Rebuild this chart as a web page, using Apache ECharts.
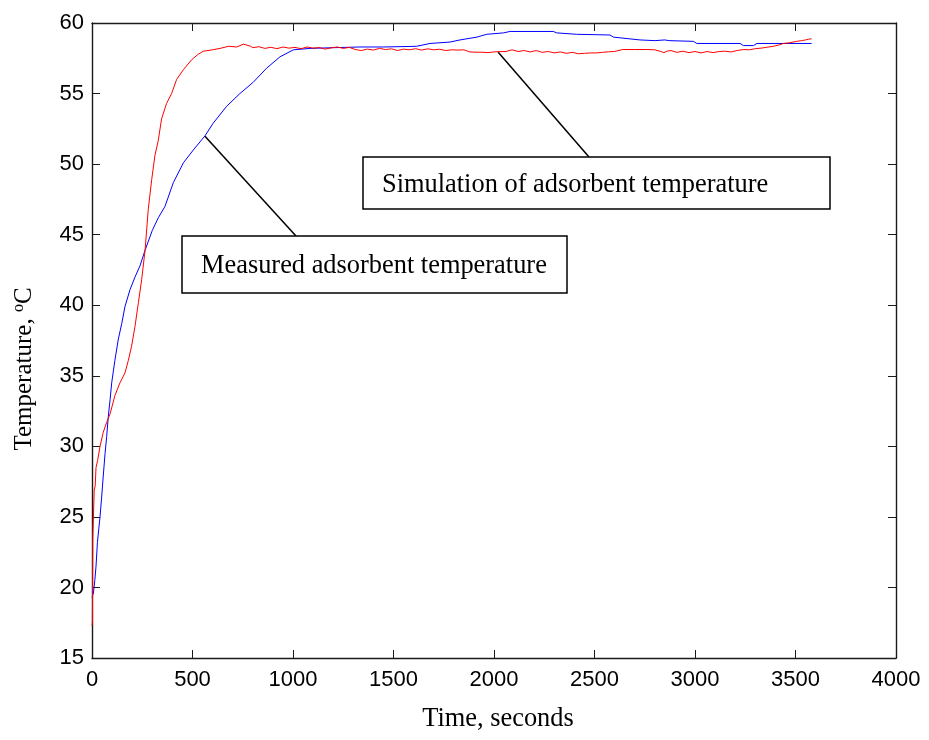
<!DOCTYPE html>
<html>
<head>
<meta charset="utf-8">
<script src="https://cdn.jsdelivr.net/npm/echarts@6/dist/echarts.min.js"></script>
<style>
html,body{margin:0;padding:0;background:#fff;}
#chart{width:929px;height:740px;}
</style>
</head>
<body>
<div id="chart"></div>
<script>
// ---- data ----
const xTicks = [0, 500, 1000, 1500, 2000, 2500, 3000, 3500, 4000];
const yTicks = [15, 20, 25, 30, 35, 40, 45, 50, 55, 60];

const measuredTime = [0,7,14,20,27,34,40,48,56,65,73,81,90,98,114,131,148,164,189,214,239,264,300,330,363,405,455,504,562,603,670,736,802,869,935,1002,1085,1200,1333,1450,1615,1682,1781,1831,1915,1964,2047,2080,2295,2312,2411,2577,2594,2726,2800,2850,2870,2992,3009,3224,3241,3291,3308,3580];
const measuredTemp = [19.3,19.6,20.5,21.5,23.2,24.2,25.0,26.4,27.9,29.5,30.7,32.1,33.3,34.5,36.1,37.6,38.7,39.9,41.1,42.0,42.8,43.9,45.3,46.2,47.0,48.7,50.1,51.0,52.0,52.9,54.1,55.0,55.8,56.8,57.6,58.1,58.2,58.25,58.3,58.3,58.35,58.55,58.65,58.8,59.0,59.2,59.3,59.4,59.4,59.3,59.2,59.15,59.0,58.8,58.75,58.8,58.75,58.7,58.55,58.55,58.4,58.4,58.55,58.55];

const simTime = [0,2,4,8,11,16,20,28,40,56,73,90,114,139,164,181,197,214,231,247,264,280,297,313,330,346,371,396,421,455,496,530,554,600,637,680,720,753,790,
  800,830,860,890,920,950,980,1010,1040,1070,1100,1130,1160,1190,1220,1250,1280,1310,1340,1370,1400,1430,1460,1490,1520,1550,1580,1610,1640,1670,1700,1730,1760,1790,1820,1850,1880,1910,1940,1970,2000,2030,2060,2090,2120,2150,2180,2210,2240,2270,2300,2330,2360,2390,2420,2450,2480,2510,2540,2570,2600,2640,2700,2760,2800,2830,2845,2860,2880,2910,2940,2970,3000,3030,3060,3090,3120,3150,3180,3210,3240,3270,3300,3330,3357,3390,3420,3440,3470,3506,3530,3550,3565,3580];
const simTemp = [17.3,17.5,23.5,23.5,26.9,27.2,28.5,29.0,30.0,31.0,31.7,32.3,33.6,34.5,35.2,36.1,37.1,38.5,40.2,41.8,43.9,46.8,48.9,50.6,51.7,53.2,54.3,55.0,56.0,56.7,57.4,57.8,58.0,58.1,58.2,58.35,58.3,58.5,58.35,
  58.25,58.32,58.2,58.28,58.18,58.3,58.22,58.27,58.18,58.3,58.22,58.26,58.15,58.24,58.3,58.2,58.27,58.12,58.05,58.15,58.08,58.2,58.12,58.17,58.05,58.15,58.1,58.18,58.08,58.17,58.1,58.14,58.05,58.1,58.08,58.1,57.95,57.93,57.93,57.9,57.95,57.97,57.98,58.1,57.98,58.05,57.95,58.05,57.92,57.98,57.88,57.95,57.85,57.92,57.82,57.85,57.88,57.88,57.92,57.96,57.98,58.12,58.12,58.12,58.1,57.98,57.9,58.0,58.05,57.92,58.0,57.9,57.98,57.88,57.98,57.9,57.98,58.0,57.95,58.05,58.12,58.1,58.18,58.22,58.28,58.35,58.45,58.55,58.6,58.7,58.75,58.8,58.85,58.88];

// annotation anchors (data coords) and labels
const annotations = [
  { text: 'Measured adsorbent temperature', anchor: [562, 51.97], box: [182, 236, 385, 57], lineEnd: [296, 236] },
  { text: 'Simulation of adsorbent temperature', anchor: [2021, 57.93], box: [363, 157, 467, 52], lineEnd: [589, 157] }
];

const chart = echarts.init(document.getElementById('chart'), null, { renderer: 'canvas' });
const axisCol = '#1a1a1a';
const zip = (a, b) => a.map((v, i) => [v, b[i]]);
const plain = v => String(v);

const baseAxis = {
  axisLine: { show: true, onZero: false, lineStyle: { color: axisCol, width: 1.4 } },
  axisTick: { show: true, inside: true, length: 8, lineStyle: { color: axisCol, width: 1 } },
  splitLine: { show: false }
};

chart.setOption({
  animation: false,
  backgroundColor: '#fff',
  grid: { left: 92, right: 33, top: 23, bottom: 82, containLabel: false },
  xAxis: [
    Object.assign({}, baseAxis, {
      type: 'value', min: xTicks[0], max: xTicks[xTicks.length - 1], interval: 500, position: 'bottom',
      name: 'Time, seconds', nameLocation: 'middle', nameGap: 48,
      nameTextStyle: { fontFamily: 'Liberation Serif', fontSize: 26.4, color: '#000', padding: [0, 0, 0, 8] },
      axisLabel: { margin: 11, fontFamily: 'Liberation Sans', fontSize: 22, color: '#000', formatter: plain }
    }),
    Object.assign({}, baseAxis, {
      type: 'value', min: xTicks[0], max: xTicks[xTicks.length - 1], interval: 500, position: 'top',
      axisLabel: { show: false }
    })
  ],
  yAxis: [
    Object.assign({}, baseAxis, {
      type: 'value', min: yTicks[0], max: yTicks[yTicks.length - 1], interval: 5, position: 'left',
      axisLabel: { margin: 8, fontFamily: 'Liberation Sans', fontSize: 22, color: '#000', formatter: plain }
    }),
    Object.assign({}, baseAxis, {
      type: 'value', min: yTicks[0], max: yTicks[yTicks.length - 1], interval: 5, position: 'right',
      axisLabel: { show: false }
    })
  ],
  series: [
    {
      name: 'Measured adsorbent temperature', type: 'line', xAxisIndex: 0, yAxisIndex: 0,
      data: zip(measuredTime, measuredTemp), showSymbol: false, symbol: 'none',
      lineStyle: { color: '#0000ff', width: 1 }, z: 3
    },
    {
      name: 'Simulation of adsorbent temperature', type: 'line', xAxisIndex: 0, yAxisIndex: 0,
      data: zip(simTime, simTemp), showSymbol: false, symbol: 'none',
      lineStyle: { color: '#ff0000', width: 1 }, z: 4
    }
  ]
});

const graphics = [];
annotations.forEach(a => {
  const p = chart.convertToPixel({ xAxisIndex: 0, yAxisIndex: 0 }, a.anchor);
  graphics.push({
    type: 'line', z: 10,
    shape: { x1: p[0], y1: p[1], x2: a.lineEnd[0], y2: a.lineEnd[1] },
    style: { stroke: '#000', lineWidth: 1.5 }
  });
  graphics.push({
    type: 'rect', z: 10,
    shape: { x: a.box[0], y: a.box[1], width: a.box[2], height: a.box[3] },
    style: { fill: '#fff', stroke: '#000', lineWidth: 1.5 }
  });
  graphics.push({
    type: 'text', z: 11, x: a.box[0] + 19, y: a.box[1] + a.box[3] / 2 + 2,
    style: { text: a.text, font: '26.4px "Liberation Serif"', fill: '#000', textVerticalAlign: 'middle', textAlign: 'left' }
  });
});
// y-axis title (rotated, with superscript o)
graphics.push({
  type: 'text', z: 11, x: 24, y: 369, rotation: Math.PI / 2,
  style: {
    text: 'Temperature, {sup|o}C', fill: '#000',
    font: '25px "Liberation Serif"', align: 'center', verticalAlign: 'middle',
    rich: { sup: { fontFamily: 'Liberation Serif', fontSize: 16, fill: '#000', verticalAlign: 'top', padding: [0, 0, 10, 0] } }
  }
});
chart.setOption({ graphic: graphics });
</script>
</body>
</html>
